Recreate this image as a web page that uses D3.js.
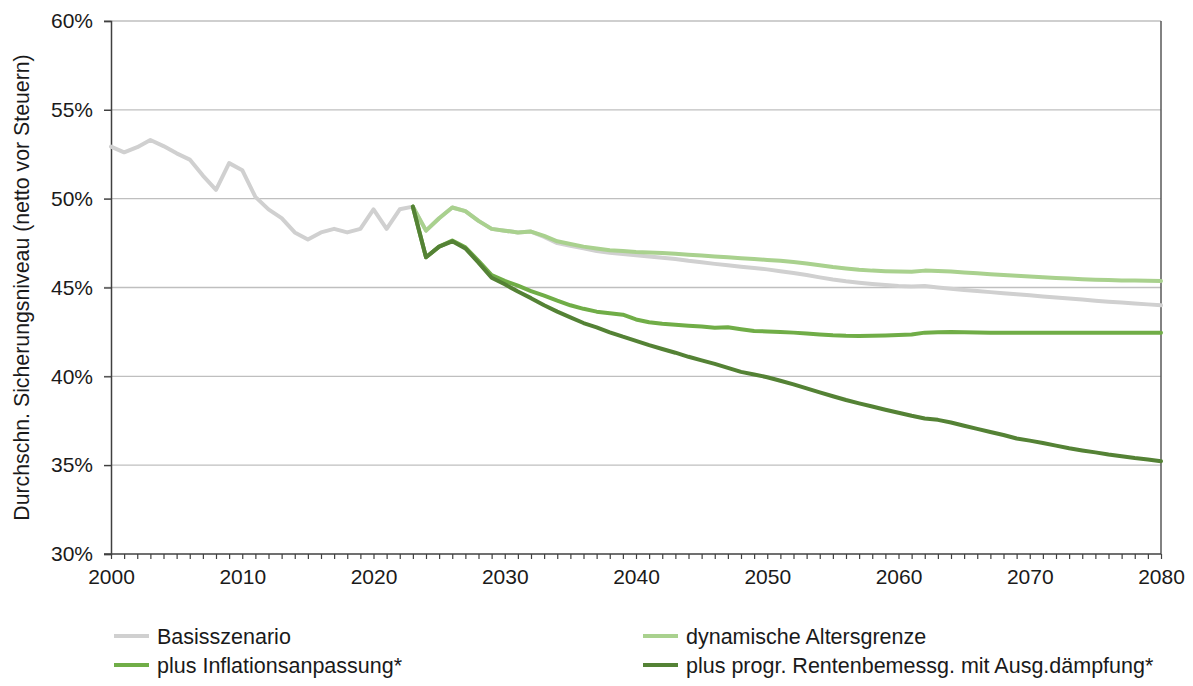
<!DOCTYPE html>
<html><head><meta charset="utf-8">
<script src="https://cdn.jsdelivr.net/npm/d3@7"></script>
<style>
html,body{margin:0;padding:0;background:#fff;}
svg{display:block;font-family:"Liberation Sans",Arial,sans-serif;}
</style></head>
<body>
<svg id="chart" width="1193" height="686"></svg>
<script>
// ---- data ----
const startYear = 2000;
const scenarioStart = 2023;
const basisszenario = [
  52.93, 52.61, 52.9, 53.3, 52.96, 52.55, 52.2, 51.3, 50.5, 52.0,
  51.6, 50.1, 49.4, 48.9, 48.1, 47.7, 48.1, 48.3, 48.1, 48.3,
  49.4, 48.3, 49.4, 49.55,
  48.2, 48.9, 49.5, 49.3, 48.75, 48.3, 48.2, 48.1, 48.15, 47.85,
  47.5, 47.35, 47.2, 47.05, 46.95, 46.88, 46.82, 46.75, 46.68, 46.6,
  46.5, 46.42, 46.33, 46.25, 46.17, 46.1, 46.02, 45.92, 45.82, 45.7,
  45.57, 45.45, 45.35, 45.27, 45.2, 45.14, 45.08, 45.05, 45.08, 45.0,
  44.93, 44.86, 44.8, 44.74, 44.68, 44.62, 44.56, 44.5, 44.44, 44.38,
  44.32, 44.26, 44.2, 44.15, 44.1, 44.05, 44.0
];
const dynamischeAltersgrenze = [
  49.55, 48.2, 48.9, 49.5, 49.3, 48.75, 48.3, 48.2, 48.1, 48.15,
  47.9, 47.6, 47.45, 47.3, 47.2, 47.1, 47.05, 47.0, 46.97, 46.94,
  46.9, 46.85, 46.8, 46.75, 46.7, 46.65, 46.6, 46.55, 46.5, 46.43,
  46.35, 46.25, 46.15, 46.07, 46.0, 45.95, 45.92, 45.9, 45.88, 45.95,
  45.93, 45.9, 45.85, 45.8, 45.75, 45.7, 45.66, 45.62, 45.58, 45.54,
  45.5, 45.47, 45.44, 45.42, 45.4, 45.39, 45.38, 45.37
];
const inflationsanpassung = [
  49.55, 46.7, 47.3, 47.64, 47.26, 46.5, 45.7, 45.37, 45.1, 44.8,
  44.54, 44.26, 44.0, 43.8, 43.64, 43.55, 43.47, 43.2, 43.04, 42.96,
  42.9, 42.85, 42.8, 42.73, 42.76, 42.65, 42.55, 42.53, 42.5, 42.46,
  42.41, 42.36, 42.31, 42.28, 42.27, 42.28, 42.3, 42.32, 42.35, 42.46,
  42.48, 42.49, 42.48, 42.47, 42.46, 42.46, 42.46, 42.46, 42.46, 42.45,
  42.45, 42.45, 42.45, 42.45, 42.45, 42.45, 42.45, 42.45
];
const rentenbemessung = [
  49.55, 46.7, 47.3, 47.6, 47.2, 46.4, 45.55, 45.18, 44.77, 44.4,
  44.0, 43.64, 43.32, 43.0, 42.76, 42.48, 42.23, 42.0, 41.76, 41.54,
  41.33, 41.1, 40.9, 40.7, 40.48, 40.25, 40.1, 39.95, 39.75, 39.55,
  39.32, 39.1, 38.88, 38.67, 38.48, 38.3, 38.12, 37.95, 37.78, 37.63,
  37.55, 37.4, 37.22, 37.04, 36.87, 36.7, 36.5, 36.38, 36.25, 36.1,
  35.95, 35.83, 35.72, 35.6, 35.5, 35.4, 35.32, 35.22
];
const seriesNames = ["Basisszenario", "dynamische Altersgrenze", "plus Inflationsanpassung*", "plus progr. Rentenbemessg. mit Ausg.dämpfung*"];
const seriesColors = ["#d0d0d0", "#a9d18e", "#70ad47", "#548235"];
const yTicks = [30, 35, 40, 45, 50, 55, 60];
const xTickLabels = [2000, 2010, 2020, 2030, 2040, 2050, 2060, 2070, 2080];
const yTitle = "Durchschn. Sicherungsniveau (netto vor Steuern)";

// ---- layout ----
const svg = d3.select("#chart");
const mLeft = 111, mRight = 1161, mTop = 21, mBottom = 554;
const x = d3.scaleLinear().domain([2000, 2080]).range([mLeft, mRight]);
const y = d3.scaleLinear().domain([30, 60]).range([mBottom, mTop]);

// gridlines
svg.append("g").selectAll("line").data(yTicks.filter(t => t > 30)).join("line")
  .attr("x1", mLeft - 7).attr("x2", mRight)
  .attr("y1", d => y(d)).attr("y2", d => y(d))
  .attr("stroke", "#bfbfbf").attr("stroke-width", 1.3);

// y axis
const yAxis = svg.append("g").attr("transform", `translate(${mLeft},0)`)
  .call(d3.axisLeft(y).tickValues(yTicks).tickFormat(d => d + "%").tickSize(7).tickPadding(11));
yAxis.select(".domain").attr("stroke", "#404040").attr("stroke-width", 1.5);
yAxis.selectAll(".tick line").attr("stroke", "#404040").attr("stroke-width", 1.3);
yAxis.selectAll("text").attr("font-size", 21).attr("fill", "#1a1a1a")
  .attr("font-family", "Liberation Sans, Arial, sans-serif");

// right border
svg.append("line").attr("x1", mRight).attr("x2", mRight).attr("y1", mTop).attr("y2", mBottom)
  .attr("stroke", "#595959").attr("stroke-width", 1.5);

// x axis
const years = d3.range(2000, 2081);
const xAxis = svg.append("g").attr("transform", `translate(0,${mBottom})`)
  .call(d3.axisBottom(x).tickValues(years).tickSize(5)
    .tickFormat(d => xTickLabels.includes(d) ? d : "").tickPadding(10).tickSizeOuter(0));
xAxis.select(".domain").attr("stroke", "#404040").attr("stroke-width", 1.5)
  .attr("d", `M${mLeft - 7},0H${mRight}`);
xAxis.selectAll(".tick line").attr("stroke", "#404040").attr("stroke-width", 1.2);
xAxis.selectAll("text").attr("font-size", 21).attr("fill", "#1a1a1a")
  .attr("font-family", "Liberation Sans, Arial, sans-serif");

// y title
svg.append("text")
  .attr("transform", `translate(29,${(mTop + mBottom) / 2}) rotate(-90)`)
  .attr("text-anchor", "middle")
  .attr("font-size", 21.3).attr("fill", "#1a1a1a")
  .text(yTitle);

// lines
const line = d3.line().x(d => x(d[0])).y(d => y(d[1]));
const allSeries = [
  basisszenario.map((v, i) => [startYear + i, v]),
  dynamischeAltersgrenze.map((v, i) => [scenarioStart + i, v]),
  inflationsanpassung.map((v, i) => [scenarioStart + i, v]),
  rentenbemessung.map((v, i) => [scenarioStart + i, v])
];
svg.append("g").selectAll("path").data(allSeries).join("path")
  .attr("d", line)
  .attr("fill", "none")
  .attr("stroke", (d, i) => seriesColors[i])
  .attr("stroke-width", 4)
  .attr("stroke-linejoin", "round")
  .attr("stroke-linecap", "round");

// legend
const legendPos = [[114, 636], [643, 636], [114, 665], [643, 665]];
const lg = svg.append("g").selectAll("g").data(seriesNames).join("g")
  .attr("transform", (d, i) => `translate(${legendPos[i][0]},${legendPos[i][1]})`);
lg.append("line").attr("x1", 0).attr("x2", 35).attr("y1", 0).attr("y2", 0)
  .attr("stroke", (d, i) => seriesColors[i]).attr("stroke-width", 4);
lg.append("text").attr("x", 43).attr("y", 0).attr("dy", "0.35em")
  .attr("font-size", 21.5).attr("fill", "#1a1a1a").text(d => d);
</script>
</body></html>
